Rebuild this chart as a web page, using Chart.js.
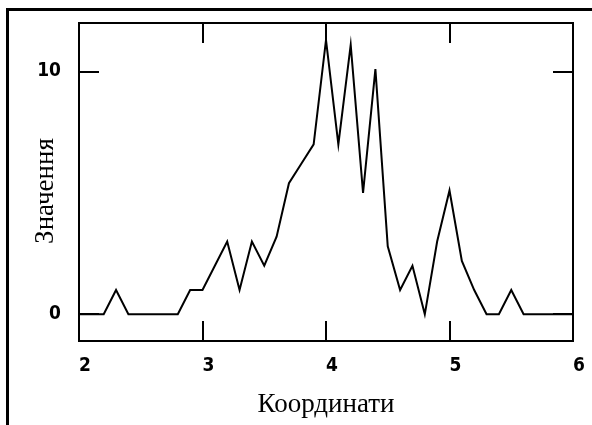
<!DOCTYPE html>
<html>
<head>
<meta charset="utf-8">
<script src="https://cdn.jsdelivr.net/npm/chart.js@4"></script>
<style>
  html, body { margin: 0; padding: 0; background: #fff; }
  #wrap { position: relative; width: 592px; height: 425px; overflow: hidden; }
  #frame { position: absolute; left: 6px; top: 8px; width: 600px; height: 430px;
           border-top: 3px solid #000; border-left: 3px solid #000; box-sizing: border-box; }
  canvas { position: absolute; left: 0; top: 0; }
</style>
</head>
<body>
<div id="wrap">
  <div id="frame"></div>
  <canvas id="c" width="592" height="425"></canvas>
</div>
<script>
// ---- data ----
const coords = [2.0, 2.1, 2.2, 2.3, 2.4, 2.5, 2.6, 2.7, 2.8, 2.9,
                3.0, 3.1, 3.2, 3.3, 3.4, 3.5, 3.6, 3.7, 3.8, 3.9,
                4.0, 4.1, 4.2, 4.3, 4.4, 4.5, 4.6, 4.7, 4.8, 4.9,
                5.0, 5.1, 5.2, 5.3, 5.4, 5.5, 5.6, 5.7, 5.8, 5.9, 6.0];
const values = [0, 0, 0, 1, 0, 0, 0, 0, 0, 1,
                1, 2, 3, 1, 3, 2, 3.2, 5.4, 6.2, 7.0,
                11.3, 7, 11.1, 5, 10.1, 2.8, 1, 2, 0, 3,
                5.1, 2.2, 1, 0, 0, 1, 0, 0, 0, 0, 0];
const xTicks = [2, 3, 4, 5, 6];
const yTicks = [0, 10];
const xInnerTicks = [3, 4, 5];
const yInnerTicks = [0, 10];
const xTitle = 'Координати';
const yTitle = 'Значення';

const points = coords.map((x, i) => ({ x: x, y: values[i] }));

const titleFont = { family: '"Liberation Serif", "Times New Roman", serif', size: 27 };
const tickFont = { family: '"DejaVu Sans Condensed", "DejaVu Sans", sans-serif', size: 19, weight: 'bold' };

const frameBox = {
  id: 'frameBox',
  afterDatasetsDraw(chart) {
    const { ctx, chartArea: a, scales: { x, y } } = chart;
    ctx.save();
    ctx.strokeStyle = '#000';
    ctx.lineWidth = 2;
    ctx.strokeRect(a.left, a.top, a.right - a.left, a.bottom - a.top);
    const len = 20;
    ctx.beginPath();
    xInnerTicks.forEach(v => {
      const px = Math.round(x.getPixelForValue(v));
      ctx.moveTo(px, a.bottom); ctx.lineTo(px, a.bottom - len);
      ctx.moveTo(px, a.top); ctx.lineTo(px, a.top + len);
    });
    yInnerTicks.forEach(v => {
      const py = Math.round(y.getPixelForValue(v));
      ctx.moveTo(a.left, py); ctx.lineTo(a.left + len, py);
      ctx.moveTo(a.right, py); ctx.lineTo(a.right - len, py);
    });
    ctx.stroke();
    // vertical axis title (rotated), placed like the reference
    ctx.fillStyle = '#000';
    ctx.font = titleFont.size + 'px ' + titleFont.family;
    ctx.textAlign = 'center';
    ctx.textBaseline = 'middle';
    ctx.translate(46, (a.top + a.bottom) / 2 + 9);
    ctx.rotate(-Math.PI / 2);
    ctx.fillText(yTitle, 0, 0);
    ctx.restore();
  }
};

new Chart(document.getElementById('c'), {
  type: 'line',
  data: {
    datasets: [{
      data: points,
      borderColor: '#000',
      borderWidth: 2,
      pointRadius: 0,
      tension: 0,
      fill: false
    }]
  },
  options: {
    responsive: false,
    animation: false,
    events: [],
    layout: { padding: { left: 0, top: 23, right: 19, bottom: 0 } },
    plugins: { legend: { display: false }, tooltip: { enabled: false } },
    scales: {
      x: {
        type: 'linear',
        min: 2, max: 6,
        afterBuildTicks(s) { s.ticks = xTicks.map(v => ({ value: v })); },
        afterFit(s) { s.height = 84; s.paddingLeft = 0; s.paddingRight = 0; },
        grid: { display: false, drawTicks: false },
        border: { display: false },
        ticks: { color: '#000', font: tickFont, padding: 14, labelOffset: 6, maxRotation: 0, autoSkip: false },
        title: { display: true, text: xTitle, color: '#000', font: titleFont, padding: { top: 0, bottom: 4 } }
      },
      y: {
        type: 'linear',
        min: -1.1, max: 12,
        afterBuildTicks(s) { s.ticks = yTicks.map(v => ({ value: v })); },
        afterFit(s) { s.width = 79; s.paddingTop = 0; s.paddingBottom = 0; },
        grid: { display: false, drawTicks: false },
        border: { display: false },
        ticks: { color: '#000', font: tickFont, padding: 18, autoSkip: false },
        title: { display: false, text: yTitle }
      }
    }
  },
  plugins: [frameBox]
});
</script>
</body>
</html>
